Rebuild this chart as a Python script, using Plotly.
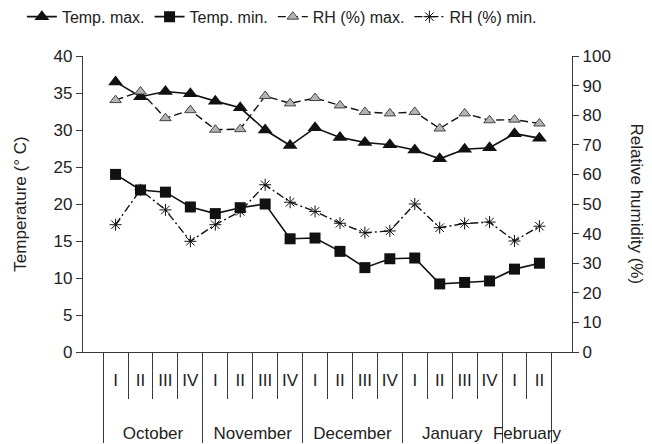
import plotly.graph_objects as go

months = ["October", "November", "December", "January", "February"]
weeks_per_month = [["I", "II", "III", "IV"], ["I", "II", "III", "IV"],
                   ["I", "II", "III", "IV"], ["I", "II", "III", "IV"], ["I", "II"]]

temp_max = [36.5, 34.5, 35.2, 34.9, 33.9, 33.0, 30.0, 27.9, 30.3, 29.0,
            28.3, 28.0, 27.3, 26.1, 27.4, 27.6, 29.5, 28.9]
temp_min = [24.0, 21.9, 21.6, 19.6, 18.7, 19.5, 20.0, 15.3, 15.4, 13.6,
            11.4, 12.6, 12.7, 9.2, 9.4, 9.6, 11.2, 12.0]
rh_max = [85.1, 88.0, 79.0, 81.7, 75.1, 75.3, 86.5, 84.0, 85.8, 83.3,
          81.1, 80.6, 81.1, 75.5, 80.6, 78.3, 78.5, 77.2]
rh_min = [43.0, 54.8, 48.0, 37.4, 43.0, 47.5, 56.5, 50.6, 47.5, 43.5,
          40.3, 40.9, 50.0, 42.0, 43.4, 43.9, 37.5, 42.5]

outer = [m for m, ws in zip(months, weeks_per_month) for _ in ws]
# trailing blank lines add room between the week row and the month row
inner = [w + "<br>\u00a0<br>\u00a0" for ws in weeks_per_month for w in ws]
x = [outer, inner]

FONT = "Liberation Sans, Arial, sans-serif"
AX = "#3a3a3a"

fig = go.Figure()
fig.add_trace(go.Scatter(x=x, y=temp_max, name="Temp. max.", mode="lines+markers",
                         line=dict(color="#111111", width=1.6),
                         marker=dict(symbol="triangle-up", size=13, color="#111111")))
fig.add_trace(go.Scatter(x=x, y=temp_min, name="Temp. min.", mode="lines+markers",
                         line=dict(color="#111111", width=1.6),
                         marker=dict(symbol="square", size=11, color="#111111")))
fig.add_trace(go.Scatter(x=x, y=rh_max, name="RH (%) max.", mode="lines+markers", yaxis="y2",
                         line=dict(color="#111111", width=1.4, dash="8px,4px"),
                         marker=dict(symbol="triangle-up", size=10, color="#b4b4b4",
                                     line=dict(color="#444444", width=1))))
fig.add_trace(go.Scatter(x=x, y=rh_min, name="RH (%) min.", mode="lines+markers", yaxis="y2",
                         line=dict(color="#111111", width=1.4, dash="8px,3px,2px,3px"),
                         marker=dict(symbol="asterisk-open", size=10,
                                     line=dict(color="#888888", width=1))))

fig.update_layout(
    width=652, height=444,
    margin=dict(l=83, r=80, t=56, b=92, autoexpand=False),
    paper_bgcolor="white", plot_bgcolor="white",
    font=dict(family=FONT, size=17, color="#222222"),
    showlegend=True,
    legend=dict(orientation="h", x=-0.125, xanchor="left", y=1.19, yanchor="top",
                font=dict(size=16), itemwidth=30, tracegroupgap=0,
                bgcolor="rgba(0,0,0,0)"),
    xaxis=dict(type="multicategory", showline=True, linecolor=AX, linewidth=1.2,
               ticks="outside", ticklen=46, tickcolor=AX, tickwidth=1.2, tickangle=0,
               ticklabelstandoff=12,
               showdividers=True, dividercolor=AX, dividerwidth=1.2, automargin=False,
               showgrid=False, tickfont=dict(size=17), zeroline=False),
    yaxis=dict(range=[0, 40], dtick=5, showline=True, linecolor=AX, linewidth=1.2,
               ticks="outside", ticklen=6, tickcolor=AX, showgrid=False, zeroline=False,
               automargin=False,
               title=dict(text="Temperature (° C)", font=dict(size=17), standoff=22)),
    yaxis2=dict(range=[0, 100], dtick=10, overlaying="y", side="right", showline=True,
                linecolor=AX, linewidth=1.2, ticks="outside", ticklen=6, tickcolor=AX,
                showgrid=False, zeroline=False, automargin=False),
    annotations=[dict(text="Relative humidity (%)", textangle=90, xref="paper", yref="paper",
                      x=1.0, y=0.5, xshift=76, showarrow=False, font=dict(size=17))],
)

fig.write_html("out.html", config={"displayModeBar": False},
               post_script="document.body.style.margin='0';")
